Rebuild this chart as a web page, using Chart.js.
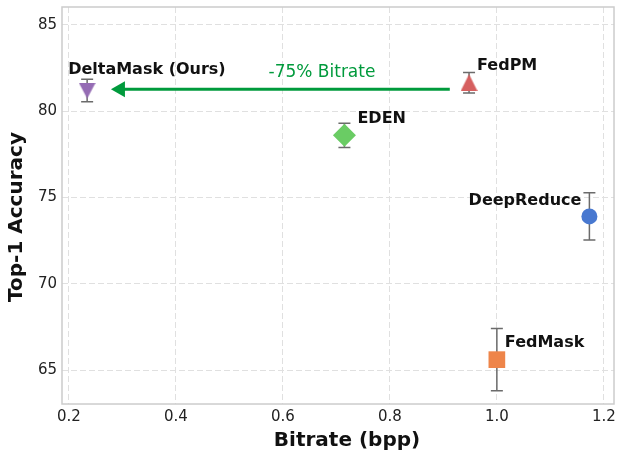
<!DOCTYPE html>
<html>
<head>
<meta charset="utf-8">
<script src="https://cdn.jsdelivr.net/npm/chart.js@4.4.1/dist/chart.umd.min.js"></script>
<style>
    body { margin: 0; background: #fff; }
    canvas { display: block; }
</style>
</head>
<body>
<canvas id="bitrateChart" width="623" height="462"></canvas>
<script>
// values
const methods = ["DeltaMask (Ours)", "FedPM", "EDEN", "DeepReduce", "FedMask"];
const bitrate = [0.234, 0.948, 0.715, 1.173, 1.0];
const accuracy = [81.2, 81.65, 78.6, 73.9, 65.6];
const accuracyErr = [0.65, 0.6, 0.7, 1.37, 1.8];

const xTicks = [0.2, 0.4, 0.6, 0.8, 1.0, 1.2];
const yTicks = [65, 70, 75, 80, 85];

const xTitle = "Bitrate (bpp)";
const yTitle = "Top-1 Accuracy";

const arrowFrom = [0.912, 81.27];
const arrowTo = [0.2785, 81.27];
const arrowText = "-75% Bitrate";
const arrowTextAt = [0.673, 82.22];

const FONT = "'DejaVu Sans', sans-serif";

// marker look, one per method
const markerColors = ["#956cb4", "#d65f5f", "#6acc64", "#4878d0", "#ee854a"];
const labelOffsets = [
    {dx: -19, dy: -21, align: "left"},
    {dx: 8, dy: -17, align: "left"},
    {dx: 13, dy: -17, align: "left"},
    {dx: -8, dy: -16, align: "right"},
    {dx: 8, dy: -17, align: "left"},
];

function makeTriangle(color, w, h, down) {
    const c = document.createElement("canvas");
    c.width = w;
    c.height = h;
    const g = c.getContext("2d");
    g.fillStyle = color;
    g.beginPath();
    if (down) {
        g.moveTo(0, 0);
        g.lineTo(w, 0);
        g.lineTo(w / 2, h);
    } else {
        g.moveTo(w / 2, 0);
        g.lineTo(w, h);
        g.lineTo(0, h);
    }
    g.closePath();
    g.fill();
    return c;
}

const pointStyles = [
    makeTriangle(markerColors[0], 17, 16, true),
    makeTriangle(markerColors[1], 17, 17, false),
    "rectRot",
    "circle",
    "rect",
];
const pointRadii = [9, 9, 11.5, 8, 11.8];

const errorBars = {
    id: "errorBars",
    beforeDatasetsDraw(chart) {
        const {ctx, scales: {x, y}} = chart;
        ctx.save();
        ctx.strokeStyle = "#6b6b6b";
        ctx.lineWidth = 1.5;
        bitrate.forEach((b, i) => {
            const px = x.getPixelForValue(b);
            const top = y.getPixelForValue(accuracy[i] + accuracyErr[i]);
            const bot = y.getPixelForValue(accuracy[i] - accuracyErr[i]);
            ctx.beginPath();
            ctx.moveTo(px, top);
            ctx.lineTo(px, bot);
            ctx.moveTo(px - 6, top);
            ctx.lineTo(px + 6, top);
            ctx.moveTo(px - 6, bot);
            ctx.lineTo(px + 6, bot);
            ctx.stroke();
        });
        ctx.restore();
    }
};

const frame = {
    id: "frame",
    beforeDatasetsDraw(chart) {
        const {ctx, chartArea: a} = chart;
        ctx.save();
        ctx.strokeStyle = "#cccccc";
        ctx.lineWidth = 1.5;
        ctx.strokeRect(a.left, a.top, a.right - a.left, a.bottom - a.top);
        ctx.restore();
    }
};

const annotations = {
    id: "annotations",
    afterDatasetsDraw(chart) {
        const {ctx, scales: {x, y}} = chart;
        ctx.save();

        // method names
        ctx.fillStyle = "#111";
        ctx.font = `bold 16px ${FONT}`;
        ctx.textBaseline = "middle";
        methods.forEach((name, i) => {
            const o = labelOffsets[i];
            ctx.textAlign = o.align;
            ctx.fillText(name, x.getPixelForValue(bitrate[i]) + o.dx, y.getPixelForValue(accuracy[i]) + o.dy);
        });

        // arrow
        const x0 = x.getPixelForValue(arrowFrom[0]);
        const y0 = y.getPixelForValue(arrowFrom[1]);
        const x1 = x.getPixelForValue(arrowTo[0]);
        const y1 = y.getPixelForValue(arrowTo[1]);
        ctx.strokeStyle = "#009a3c";
        ctx.fillStyle = "#009a3c";
        ctx.lineWidth = 3;
        ctx.beginPath();
        ctx.moveTo(x0, y0);
        ctx.lineTo(x1 + 12, y1);
        ctx.stroke();
        ctx.beginPath();
        ctx.moveTo(x1, y1);
        ctx.lineTo(x1 + 14, y1 - 8);
        ctx.lineTo(x1 + 14, y1 + 8);
        ctx.closePath();
        ctx.fill();

        ctx.font = `17px ${FONT}`;
        ctx.textAlign = "center";
        ctx.fillText(arrowText, x.getPixelForValue(arrowTextAt[0]), y.getPixelForValue(arrowTextAt[1]));

        // axis titles
        ctx.fillStyle = "#111";
        ctx.font = `bold 20px ${FONT}`;
        ctx.fillText(xTitle, 347, 441);
        ctx.translate(17, 217);
        ctx.rotate(-Math.PI / 2);
        ctx.fillText(yTitle, 0, 0);
        ctx.restore();
    }
};

const tickFont = {family: FONT, size: 15};

new Chart(document.getElementById("bitrateChart"), {
    type: "scatter",
    data: {
        datasets: [{
            data: bitrate.map((b, i) => ({x: b, y: accuracy[i]})),
            backgroundColor: markerColors,
            borderWidth: 0,
            pointStyle: pointStyles,
            pointRadius: pointRadii,
        }]
    },
    options: {
        responsive: false,
        animation: false,
        layout: {autoPadding: false, padding: {top: 7, right: 9, left: 0, bottom: 0}},
        plugins: {legend: {display: false}, tooltip: {enabled: false}},
        scales: {
            x: {
                type: "linear",
                min: 0.187,
                max: 1.219,
                afterBuildTicks: s => { s.ticks = xTicks.map(v => ({value: v})); },
                afterFit: s => {
                    s.height = 58;
                    s.paddingLeft = 0;
                    s.paddingRight = 0;
                },
                ticks: {callback: v => v.toFixed(1), font: tickFont, color: "#222", padding: 4, autoSkip: false, maxRotation: 0},
                grid: {color: "#e0e0e0", drawTicks: false},
                border: {display: false, dash: [6, 3]},
            },
            y: {
                min: 63.03,
                max: 86.04,
                afterBuildTicks: s => { s.ticks = yTicks.map(v => ({value: v})); },
                afterFit: s => {
                    s.width = 62;
                    s.paddingTop = 0;
                    s.paddingBottom = 0;
                },
                ticks: {font: tickFont, color: "#222", padding: 5, autoSkip: false},
                grid: {color: "#e0e0e0", drawTicks: false},
                border: {display: false, dash: [6, 3]},
            }
        }
    },
    plugins: [frame, errorBars, annotations]
});
</script>
</body>
</html>
